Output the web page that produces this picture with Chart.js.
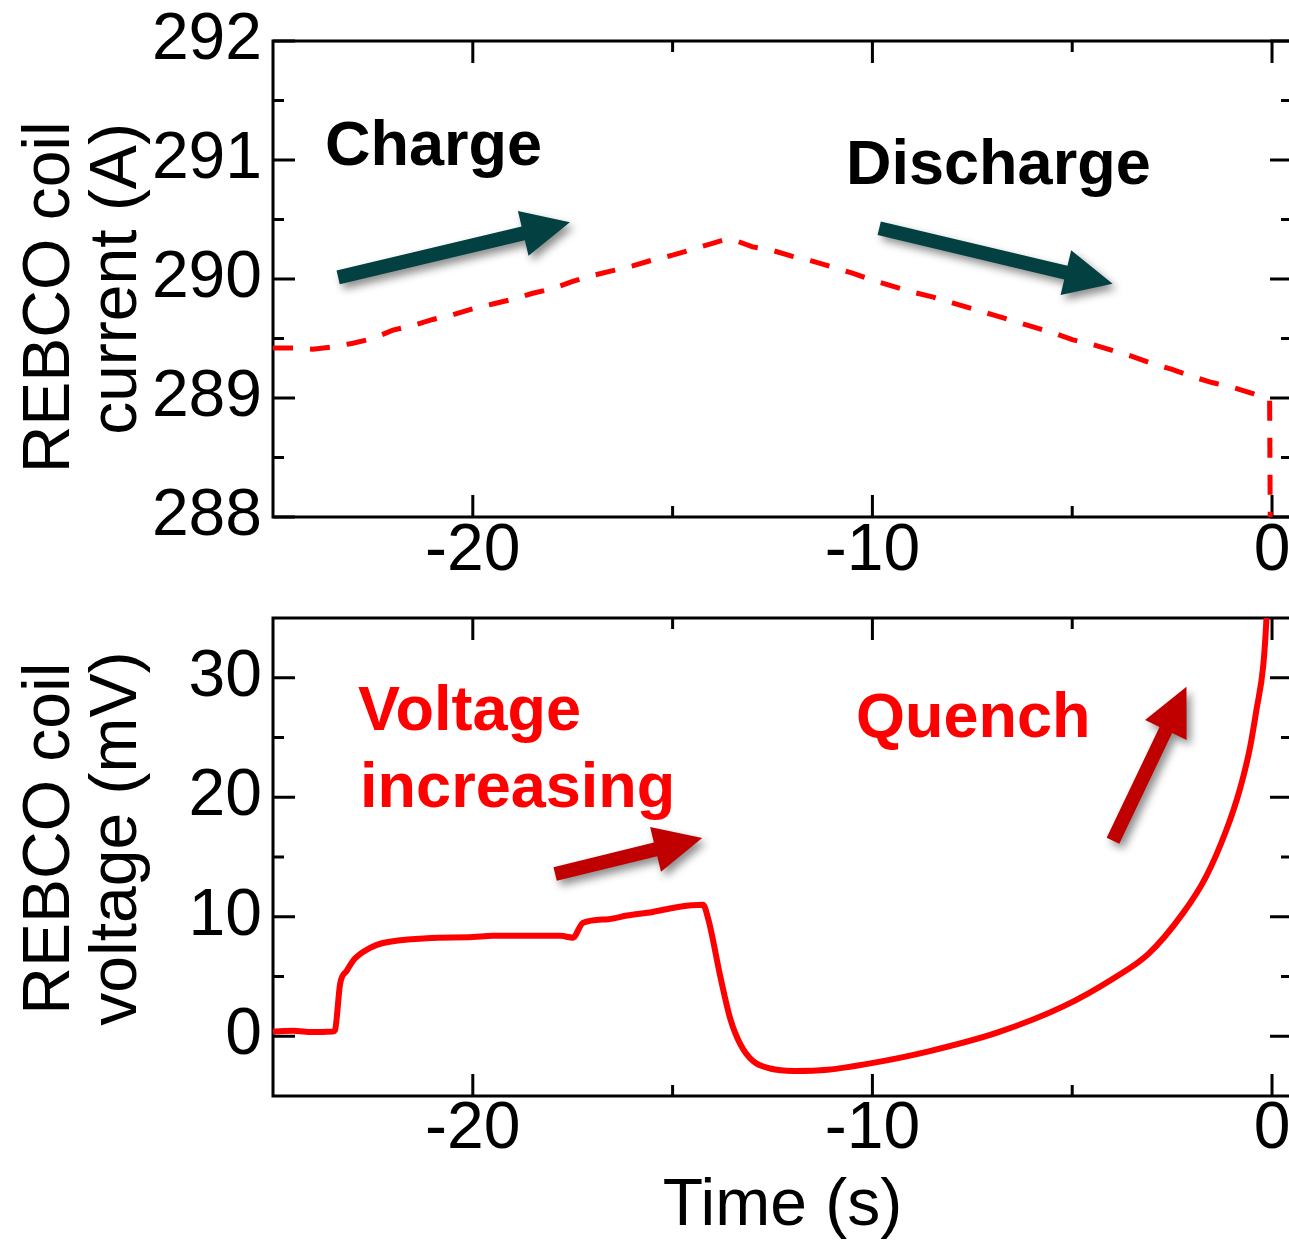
<!DOCTYPE html>
<html>
<head>
<meta charset="utf-8">
<title>REBCO coil current and voltage</title>
<script src="https://cdn.jsdelivr.net/npm/chart.js@4/dist/chart.umd.min.js"></script>
<style>
html, body { margin: 0; padding: 0; background: #fff; overflow: hidden; width: 1289px; height: 1244px; }
canvas { position: absolute; left: 0; }
#chart-current { top: 0; }
#chart-voltage { top: 600px; }
</style>
</head>
<body>
<canvas id="chart-current" width="1320" height="600"></canvas>
<canvas id="chart-voltage" width="1320" height="644"></canvas>
<script>
'use strict';

// Coil current (top panel)
var TIME_I = [-25, -24.5, -24, -23.5, -23, -22.5, -22, -21.5, -21, -20.5, -20, -19.5, -19, -18.5, -18,
	-17.5, -17, -16.5, -16, -15.5, -15, -14.5, -14, -13.7, -13.4, -13, -12.5, -12, -11.5, -11, -10.5,
	-10, -9.5, -9, -8.5, -8, -7.5, -7, -6.5, -6, -5.5, -5, -4.5, -4, -3.5, -3, -2.5, -2, -1.5, -1,
	-0.5, -0.2, -0.06, -0.04];
var CURRENT = [289.42, 289.42, 289.41, 289.43, 289.46, 289.50, 289.57, 289.61, 289.66, 289.70, 289.75,
	289.79, 289.83, 289.88, 289.92, 289.98, 290.03, 290.07, 290.11, 290.16, 290.20, 290.25, 290.30,
	290.33, 290.32, 290.27, 290.24, 290.19, 290.15, 290.10, 290.05, 289.99, 289.94, 289.89, 289.85,
	289.80, 289.75, 289.70, 289.65, 289.60, 289.55, 289.49, 289.45, 289.40, 289.35, 289.29, 289.24,
	289.18, 289.13, 289.09, 289.04, 289.00, 288.98, 287.70];

// Coil voltage (bottom panel)
var TIME_V = [-25, -24.5, -24, -23.5, -23.45, -23.32, -23.15, -22.95, -22.57, -22.25, -21.15, -20,
	-19.5, -18.5, -17.8, -17.5, -17.24, -16.6, -16.14, -15.5, -14.9, -14.24, -14.1, -13.8, -13.56,
	-13.3, -12.98, -12.56, -11.97, -11.12, -10.02, -8.59, -6.9, -5.21, -3.94, -3.1, -2.25, -1.66,
	-1.15, -0.81, -0.56, -0.39, -0.22, -0.14, -0.08];
var VOLTAGE = [0.4, 0.45, 0.35, 0.4, 0.5, 4.4, 5.5, 6.5, 7.4, 7.8, 8.2, 8.3, 8.4, 8.4, 8.4, 8.25, 9.5,
	9.8, 10.1, 10.4, 10.8, 11.0, 9.7, 4.9, 1.5, -0.7, -2.1, -2.7, -2.9, -2.8, -2.25, -1.26, 0.28, 2.52,
	4.9, 6.87, 10.2, 13.3, 17.2, 20.6, 24.0, 27.3, 31.0, 34.9, 40];

// Axis ticks
var X_MAJOR = [-20, -10, 0];
var X_MINOR = [-15, -5];
var I_MAJOR = [288, 289, 290, 291, 292];
var I_MINOR = [288.5, 289.5, 290.5, 291.5];
var V_MAJOR = [0, 10, 20, 30];
var V_MINOR = [5, 15, 25];

var FONT = '"Liberation Sans", Arial, Helvetica, sans-serif';
var TEAL = '#034041';
var DARK_RED = '#c00000';
var RED = '#ff0000';

function points(xs, ys) {
	return xs.map(function(x, i) {
		return {x: x, y: ys[i]};
	});
}

function useTicks(values) {
	return function(scale) {
		scale.ticks = values.map(function(v) {
			return {value: v};
		});
	};
}

// box round the plot with inward major/minor ticks on all four sides
var frame = {
	id: 'frame',
	beforeDatasetsDraw: function(chart, args, opts) {
		var ctx = chart.ctx;
		var a = chart.chartArea;
		var xs = chart.scales.x;
		var ys = chart.scales.y;

		ctx.save();
		ctx.strokeStyle = '#000';
		ctx.lineWidth = 3;
		ctx.strokeRect(a.left, a.top, a.right - a.left, a.bottom - a.top);

		ctx.beginPath();
		[[opts.xMajor, 22], [opts.xMinor, 11]].forEach(function(set) {
			set[0].forEach(function(v) {
				var px = xs.getPixelForValue(v);
				ctx.moveTo(px, a.bottom);
				ctx.lineTo(px, a.bottom - set[1]);
				ctx.moveTo(px, a.top);
				ctx.lineTo(px, a.top + set[1]);
			});
		});
		[[opts.yMajor, 22], [opts.yMinor, 11]].forEach(function(set) {
			set[0].forEach(function(v) {
				var py = ys.getPixelForValue(v);
				ctx.moveTo(a.left, py);
				ctx.lineTo(a.left + set[1], py);
				ctx.moveTo(a.right, py);
				ctx.lineTo(a.right - set[1], py);
			});
		});
		ctx.stroke();
		ctx.restore();
	}
};

function drawArrow(ctx, x0, y0, x1, y1, color) {
	var angle = Math.atan2(y1 - y0, x1 - x0);
	var len = Math.hypot(x1 - x0, y1 - y0);
	var shaft = 7;
	var head = 23;
	var headLen = 48;

	ctx.save();
	ctx.translate(x0, y0);
	ctx.rotate(angle);
	ctx.beginPath();
	ctx.moveTo(0, -shaft);
	ctx.lineTo(len - headLen, -shaft);
	ctx.lineTo(len - headLen, -head);
	ctx.lineTo(len, 0);
	ctx.lineTo(len - headLen, head);
	ctx.lineTo(len - headLen, shaft);
	ctx.lineTo(0, shaft);
	ctx.closePath();
	ctx.shadowColor = 'rgba(0, 0, 0, 0.45)';
	ctx.shadowBlur = 9;
	ctx.shadowOffsetX = 4;
	ctx.shadowOffsetY = 5;
	ctx.fillStyle = color;
	ctx.fill();
	ctx.restore();
}

// text labels and arrows, placed in data units
var notes = {
	id: 'notes',
	afterDatasetsDraw: function(chart, args, opts) {
		var ctx = chart.ctx;
		var xs = chart.scales.x;
		var ys = chart.scales.y;

		ctx.save();
		ctx.font = 'bold 63px ' + FONT;
		ctx.textAlign = 'left';
		ctx.textBaseline = 'alphabetic';
		opts.labels.forEach(function(l) {
			ctx.fillStyle = l.color;
			ctx.fillText(l.text, xs.getPixelForValue(l.x), ys.getPixelForValue(l.y));
		});
		ctx.restore();

		opts.arrows.forEach(function(r) {
			drawArrow(ctx,
				xs.getPixelForValue(r.from[0]), ys.getPixelForValue(r.from[1]),
				xs.getPixelForValue(r.to[0]), ys.getPixelForValue(r.to[1]),
				r.color);
		});
	}
};

function makeOptions(cfg) {
	return {
		responsive: false,
		devicePixelRatio: 1,
		animation: false,
		layout: {padding: {top: cfg.padTop, right: 28, bottom: 0, left: 0}},
		plugins: {
			legend: {display: false},
			tooltip: {enabled: false},
			frame: {xMajor: X_MAJOR, xMinor: X_MINOR, yMajor: cfg.yMajor, yMinor: cfg.yMinor},
			notes: {labels: cfg.labels, arrows: cfg.arrows}
		},
		scales: {
			x: {
				type: 'linear',
				min: -25,
				max: 0.5,
				afterBuildTicks: useTicks(X_MAJOR),
				afterFit: function(scale) {
					scale.height = cfg.xHeight;
					scale.paddingLeft = 0;
					scale.paddingRight = 0;
				},
				grid: {display: false, drawTicks: false},
				border: {display: false},
				ticks: {
					color: '#000',
					padding: cfg.xPad,
					maxRotation: 0,
					autoSkip: false,
					font: {family: FONT, size: 66, lineHeight: 1}
				},
				title: cfg.xTitle
			},
			y: {
				min: cfg.yMin,
				max: cfg.yMax,
				afterBuildTicks: useTicks(cfg.yMajor),
				afterFit: function(scale) {
					scale.width = 273;
					scale.paddingTop = 0;
					scale.paddingBottom = 0;
				},
				grid: {display: false, drawTicks: false},
				border: {display: false},
				ticks: {
					color: '#000',
					padding: 11,
					font: {family: FONT, size: 66}
				},
				title: {
					display: true,
					text: cfg.yTitle,
					color: '#000',
					padding: {top: 17, bottom: 0},
					font: {family: FONT, size: 66, lineHeight: 1.02}
				}
			}
		}
	};
}

window.addEventListener('load', function() {
	new Chart('chart-current', {
		type: 'line',
		data: {
			datasets: [{
				data: points(TIME_I, CURRENT),
				borderColor: RED,
				borderWidth: 5,
				borderDash: [20, 17],
				pointRadius: 0,
				tension: 0
			}]
		},
		options: makeOptions({
			padTop: 41,
			xHeight: 83,
			xPad: 2,
			xTitle: {display: false},
			yMin: 288,
			yMax: 292,
			yMajor: I_MAJOR,
			yMinor: I_MINOR,
			// trailing spaces nudge the first line down, as in the original figure
			yTitle: ['REBCO coil  ', 'current (A)'],
			labels: [
				{text: 'Charge', x: -23.7, y: 290.955, color: '#000'},
				{text: 'Discharge', x: -10.66, y: 290.80, color: '#000'}
			],
			arrows: [
				{from: [-23.37, 290.014], to: [-17.57, 290.477], color: TEAL},
				{from: [-9.83, 290.426], to: [-3.99, 289.961], color: TEAL}
			]
		}),
		plugins: [frame, notes]
	});

	new Chart('chart-voltage', {
		type: 'line',
		data: {
			datasets: [{
				data: points(TIME_V, VOLTAGE),
				borderColor: RED,
				borderWidth: 6,
				pointRadius: 0,
				cubicInterpolationMode: 'monotone'
			}]
		},
		options: makeOptions({
			padTop: 18,
			xHeight: 148,
			xPad: 1,
			xTitle: {
				display: true,
				text: 'Time (s)',
				color: '#000',
				padding: {top: 0, bottom: 4},
				font: {family: FONT, size: 66, lineHeight: 1.02}
			},
			yMin: -5,
			yMax: 35,
			yMajor: V_MAJOR,
			yMinor: V_MINOR,
			yTitle: ['  REBCO coil', '  voltage (mV)'],
			labels: [
				{text: 'Voltage', x: -22.87, y: 25.63, color: RED},
				{text: 'increasing', x: -22.82, y: 19.18, color: RED},
				{text: 'Quench', x: -10.41, y: 25.04, color: RED}
			],
			arrows: [
				{from: [-17.94, 13.58], to: [-14.26, 16.59], color: DARK_RED},
				{from: [-3.98, 16.36], to: [-2.14, 29.25], color: DARK_RED}
			]
		}),
		plugins: [frame, notes]
	});
});
</script>
</body>
</html>
